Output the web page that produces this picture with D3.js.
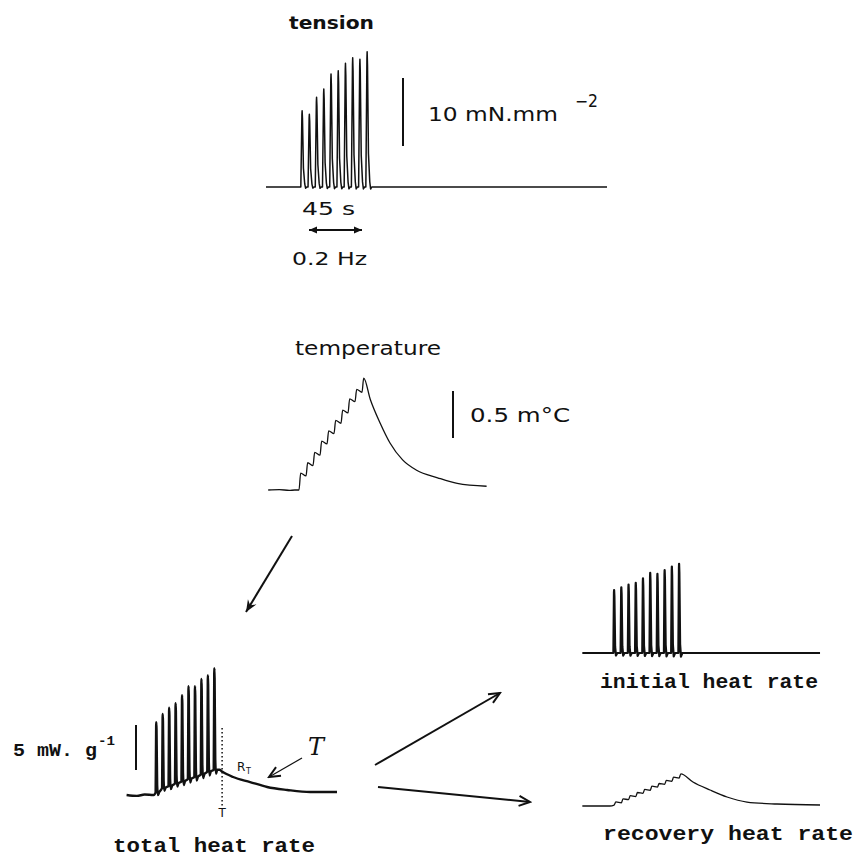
<!DOCTYPE html>
<html>
<head>
<meta charset="utf-8">
<script src="https://cdn.jsdelivr.net/npm/d3@7"></script>
<style>
body { margin: 0; background: #fff; }
svg { display: block; }
</style>
</head>
<body>
<script>
// stimulation times (s), 10 twitches at 0.2 Hz
const stimTimes = [25, 30, 35, 40, 45, 50, 55, 60, 65, 70];

// tension peaks (mN.mm-2)
const tensionPeaks = [11.2, 10.7, 13.2, 14.4, 16.6, 17.1, 18.2, 19.0, 18.8, 19.9];
const tensionSpan = [0, 236];

// temperature (m°C)
const tempBaseline = [[3, 0], [11, 0.005], [18, -0.005], [22, 0]];
const tempTroughs = [0, 0.15, 0.26, 0.37, 0.49, 0.60, 0.71, 0.82, 0.94, 1.04];
const tempPeaks = [0.18, 0.29, 0.40, 0.52, 0.63, 0.74, 0.85, 0.97, 1.07, 1.19];
const tempDecay = [[76, 0.96], [83, 0.71], [90, 0.50], [99, 0.32], [109, 0.21], [124, 0.13], [138, 0.07], [159, 0.04]];

// total heat rate (mW.g-1)
const totalBaseline = [[2, 0], [10, -0.1], [16, 0.05], [23, 0]];
const totalTroughs = [0.3, 0.8, 1.0, 1.3, 1.5, 1.8, 2.0, 2.3, 2.6, 2.8];
const totalPeaks = [8.1, 9.0, 9.7, 10.2, 11.1, 12.1, 12.1, 12.9, 13.3, 14.1];
const totalDecay = [[74, 2.8], [76, 2.6], [84.5, 2.0], [97.7, 1.44], [110.9, 0.89], [126.4, 0.56], [144.2, 0.33], [165, 0.33]];
const markT = 76;

// initial heat rate (mW.g-1)
const initialPeaks = [7.0, 7.3, 7.6, 7.8, 8.3, 8.9, 8.8, 9.2, 9.6, 9.9];
const initialSpan = [3, 167.6];

// recovery heat rate (mW.g-1)
const recoveryBaseline = [[3, 0], [22, 0]];
const recoveryTroughs = [0.1, 0.35, 0.7, 1.05, 1.4, 1.75, 2.1, 2.4, 2.75, 3.1];
const recoveryPeaks = [0.45, 0.8, 1.15, 1.5, 1.85, 2.2, 2.5, 2.85, 3.2, 3.56];
const recoveryDecay = [[79.6, 2.67], [91.4, 1.78], [103.2, 1.0], [117, 0.44], [137.8, 0.22], [167.6, 0.11]];

// calibration bars
const tensionBar = 10;
const tempBar = 0.5;
const heatBar = 5;

// shape of one twitch / one heat spike: [dt (s), fraction of amplitude]
const twitchShape = [[-0.9, 0], [-0.15, 0.95], [0, 1], [0.25, 0.9], [0.9, 0.25], [1.8, 0.04], [2.4, -0.015], [3.2, 0]];
const heatShape = [[-0.5, 0], [-0.1, 0.95], [0, 1], [0.2, 0.9], [0.7, 0.1], [1.3, -0.04], [2.2, 0]];

const width = 860;
const height = 857;

const svg = d3.select("body").append("svg")
    .attr("width", width)
    .attr("height", height);

const defs = svg.append("defs");
defs.append("marker")
    .attr("id", "headFill")
    .attr("markerUnits", "userSpaceOnUse")
    .attr("viewBox", "-13 -7 15 14")
    .attr("refX", 0).attr("refY", 0)
    .attr("markerWidth", 15).attr("markerHeight", 14)
    .attr("orient", "auto-start-reverse")
    .append("path")
    .attr("d", "M-12,-5 L0,0 L-12,5 L-8,0 Z")
    .attr("fill", "#111");
defs.append("marker")
    .attr("id", "headSmall")
    .attr("markerUnits", "userSpaceOnUse")
    .attr("viewBox", "-10 -5 11 10")
    .attr("refX", 0).attr("refY", 0)
    .attr("markerWidth", 11).attr("markerHeight", 10)
    .attr("orient", "auto-start-reverse")
    .append("path")
    .attr("d", "M-8,-3.5 L0,0 L-8,3.5 Z")
    .attr("fill", "#111");
defs.append("marker")
    .attr("id", "headOpen")
    .attr("markerUnits", "userSpaceOnUse")
    .attr("viewBox", "-14 -8 16 16")
    .attr("refX", 0).attr("refY", 0)
    .attr("markerWidth", 16).attr("markerHeight", 16)
    .attr("orient", "auto")
    .append("path")
    .attr("d", "M-11,-5 L0,0 L-11,5")
    .attr("fill", "none")
    .attr("stroke", "#111")
    .attr("stroke-width", 2);

// one x/y scale pair per trace
const tension = {
    x: d3.scaleLinear().domain(tensionSpan).range([266, 607]),
    y: d3.scaleLinear().domain([0, 10]).range([187, 119])
};
const temp = {
    x: d3.scaleLinear().domain([0, 160]).range([264, 488]),
    y: d3.scaleLinear().domain([0, 0.5]).range([490, 443])
};
const total = {
    x: d3.scaleLinear().domain([0, 165]).range([124, 337]),
    y: d3.scaleLinear().domain([0, 5]).range([795, 750])
};
const initial = {
    x: d3.scaleLinear().domain([0, 168]).range([578, 820.6]),
    y: d3.scaleLinear().domain([0, 5]).range([653, 608])
};
const recovery = {
    x: d3.scaleLinear().domain([0, 168]).range([578, 820.6]),
    y: d3.scaleLinear().domain([0, 5]).range([806, 761])
};

function spikes(times, tops, bases, shape) {
    const pts = [];
    times.forEach((t, i) => {
        const b = bases[i];
        const a = tops[i] - b;
        shape.forEach(([dt, f]) => pts.push([t + dt, b + f * a]));
    });
    return pts;
}

function steps(times, troughs, peaks, rise) {
    const pts = [];
    times.forEach((t, i) => {
        pts.push([t, troughs[i]]);
        pts.push([t + rise, peaks[i]]);
    });
    return pts;
}

function trace(panel, pts, strokeWidth, curve = d3.curveLinear) {
    const line = d3.line().curve(curve).x(d => panel.x(d[0])).y(d => panel.y(d[1]));
    svg.append("path")
        .attr("d", line(pts))
        .attr("fill", "none")
        .attr("stroke", "#111")
        .attr("stroke-width", strokeWidth)
        .attr("stroke-linejoin", "round");
}

function bar(panel, value, x, yBottom) {
    const len = panel.y(0) - panel.y(value);
    svg.append("line")
        .attr("x1", x).attr("x2", x)
        .attr("y1", yBottom).attr("y2", yBottom - len)
        .attr("stroke", "#111")
        .attr("stroke-width", 2);
}

function label(x, y, str, o = {}) {
    const t = svg.append("text")
        .attr("x", x).attr("y", y)
        .text(str)
        .attr("fill", "#111")
        .style("font-family", o.family || "'DejaVu Sans', sans-serif")
        .style("font-size", (o.size || 18) + "px")
        .style("font-weight", o.weight || "normal")
        .style("font-style", o.style || "normal")
        .attr("text-anchor", o.anchor || "start");
    if (o.len) t.attr("textLength", o.len).attr("lengthAdjust", "spacingAndGlyphs");
    return t;
}

function arrow(x1, y1, x2, y2, marker, w, both) {
    const l = svg.append("line")
        .attr("x1", x1).attr("y1", y1)
        .attr("x2", x2).attr("y2", y2)
        .attr("stroke", "#111")
        .attr("stroke-width", w)
        .attr("marker-end", `url(#${marker})`);
    if (both) l.attr("marker-start", `url(#${marker})`);
}

// tension
const zeros = stimTimes.map(() => 0);
trace(tension, [[tensionSpan[0], 0], ...spikes(stimTimes, tensionPeaks, zeros, twitchShape), [tensionSpan[1], 0]], 1.5);
bar(tension, tensionBar, 403, 146);
label(289, 29, "tension", {weight: "bold", size: 18, len: 85});
label(428, 121, "10 mN.mm", {size: 19, len: 130});
label(575, 107, "\u22122", {size: 17, len: 23});
label(302, 215, "45 s", {size: 18, len: 53});
arrow(309, 230, 362, 230, "headSmall", 2, true);
label(292, 265, "0.2 Hz", {size: 18, len: 75});

// temperature
trace(temp, [...tempBaseline, ...steps(stimTimes, tempTroughs, tempPeaks, 1.2), ...tempDecay], 1.3, d3.curveMonotoneX);
bar(temp, tempBar, 453, 438);
label(295, 355, "temperature", {size: 19, len: 146});
label(470, 422, "0.5 m\u00b0C", {size: 19, len: 100});

// arrow temperature -> total heat rate
arrow(292, 536, 246, 612, "headFill", 2);

// total heat rate
trace(total, [...totalBaseline, ...spikes(stimTimes, totalPeaks, totalTroughs, heatShape), ...totalDecay], 2.4, d3.curveMonotoneX);
bar(total, heatBar, 136, 770);
svg.append("line")
    .attr("x1", total.x(markT)).attr("x2", total.x(markT))
    .attr("y1", 728).attr("y2", 806)
    .attr("stroke", "#111")
    .attr("stroke-width", 1.5)
    .attr("stroke-dasharray", "1.5,2.5");
label(total.x(markT), 817, "T", {size: 12, anchor: "middle"});
label(237, 771, "R", {size: 12});
label(246, 774, "T", {size: 8});
label(316, 755, "T", {family: "'DejaVu Serif', serif", style: "italic", size: 24, anchor: "middle"});
arrow(302, 758, 269, 777, "headOpen", 1.2);
label(13, 756, "5 mW. g", {family: "'Liberation Mono', monospace", weight: "bold", size: 18, len: 84});
label(98, 745, "-1", {family: "'Liberation Mono', monospace", weight: "bold", size: 12, len: 17});
label(113, 852, "total heat rate", {family: "'Liberation Mono', monospace", weight: "bold", size: 21, len: 202});

// arrows to the split traces
arrow(375, 765, 500, 693, "headOpen", 2);
arrow(378, 787, 530, 802, "headOpen", 2);

// initial heat rate
trace(initial, [[initialSpan[0], 0], ...spikes(stimTimes, initialPeaks, zeros, heatShape), [initialSpan[1], 0]], 2.2);
label(600, 688, "initial heat rate", {family: "'Liberation Mono', monospace", weight: "bold", size: 21, len: 218});

// recovery heat rate
trace(recovery, [...recoveryBaseline, ...steps(stimTimes, recoveryTroughs, recoveryPeaks, 1.2), ...recoveryDecay], 1.3, d3.curveMonotoneX);
label(603, 840, "recovery heat rate", {family: "'Liberation Mono', monospace", weight: "bold", size: 21, len: 250});
</script>
</body>
</html>
